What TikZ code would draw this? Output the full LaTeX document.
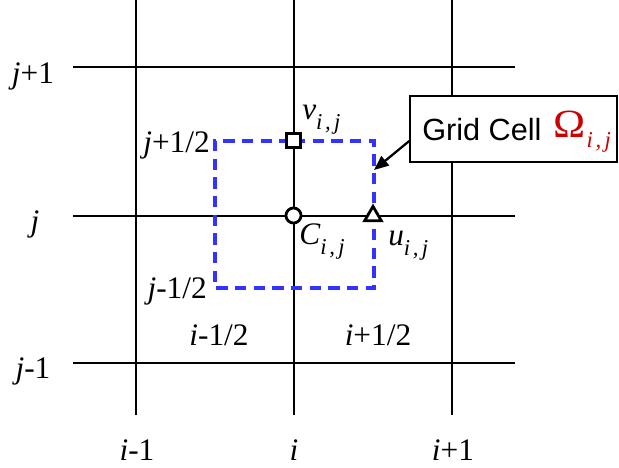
\documentclass[tikz,border=0pt]{standalone}
\usepackage{fontspec}
\setmainfont{Liberation Serif}
\newfontfamily\arialf{Liberation Sans}
\usetikzlibrary{arrows.meta,shapes.geometric}
\newcommand{\lbl}{\fontsize{23.5}{25}\selectfont}
\newcommand{\subij}{\raisebox{-8pt}{\fontsize{17}{17}\selectfont\itshape i\kern2pt,\kern2.5pt j}}
\begin{document}
\begin{tikzpicture}[x=0.75pt,y=-0.75pt,
  gridline/.style={line width=1.1pt,black},
  cellline/.style={line width=2.4pt,color={rgb,255:red,51;green,51;blue,255},dash pattern=on 8.5pt off 5.5pt},
  lab/.style={inner sep=0pt,anchor=base,font=\lbl},
  marker/.style={draw=black,fill=white,line width=2.1pt,inner sep=0pt},
  callout/.style={draw=black,line width=1.1pt,fill=white,minimum width=155.25pt,minimum height=49.5pt,inner sep=0pt}]
\useasboundingbox (0,0) rectangle (619,468);
% grid lines
\draw[gridline] (136,0) -- (136,415);
\draw[gridline] (294,0) -- (294,415);
\draw[gridline] (452,0) -- (452,415);
\draw[gridline] (73,67) -- (515,67);
\draw[gridline] (73,216) -- (515,216);
\draw[gridline] (73,363) -- (515,363);
% grid cell
\draw[cellline] (294,141) -- (374,141) -- (374,288) -- (215,288) -- (215,141) -- cycle;
% markers
\node[marker,circle,minimum size=11.3pt] (C) at (293.5,215.5) {};
\node[marker,rectangle,minimum size=10.2pt] (V) at (293.5,140.5) {};
\node[marker,regular polygon,regular polygon sides=3,minimum size=14.5pt] (U) at (373,216) {};
% axis labels
\node[lab] (jp1) at (33,83) {\textit{j}+1};
\node[lab] (j) at (35,231) {\textit{j}};
\node[lab] (jm1) at (33,378) {\textit{j}-1};
\node[lab] (im1) at (137,460) {\textit{i}-1};
\node[lab] (ii) at (294,460) {\textit{i}};
\node[lab] (ip1) at (453,460) {\textit{i}+1};
\node[lab,anchor=base east] (jph) at (210,152) {\textit{j}+1/2};
\node[lab,anchor=base east] (jmh) at (207,298) {\textit{j}-1/2};
\node[lab] (imh) at (219,345) {\textit{i}-1/2};
\node[lab] (iph) at (378,345) {\textit{i}+1/2};
% variable labels
\node[lab,anchor=base west] (vl) at (302,119) {\textit{v}\subij};
\node[lab,anchor=base west] (cl) at (299,244) {\textit{C}\subij};
\node[lab,anchor=base west] (ul) at (388,245) {\textit{u}\subij};
% callout
\node[callout] (box) at (513.5,129) {};
\node[anchor=base west,inner sep=0pt,font=\arialf\fontsize{23}{25}\selectfont] (gc) at (422,140) {Grid Cell};
\node[anchor=base west,inner sep=0pt,text={rgb,255:red,204;green,0;blue,0}] (om) at (553,137) {\fontsize{30}{32}\selectfont\scalebox{1.08}[1]{Ω}\kern1pt\raisebox{-8pt}{\fontsize{17}{17}\selectfont\itshape i\kern2pt,\kern2.5pt j}};
\coordinate (tip) at (374,170);
\draw[line width=1.7pt,-{Triangle[length=11pt,width=9pt]}] ([yshift=-9pt]box.west) -- (tip);
\end{tikzpicture}
\end{document}
